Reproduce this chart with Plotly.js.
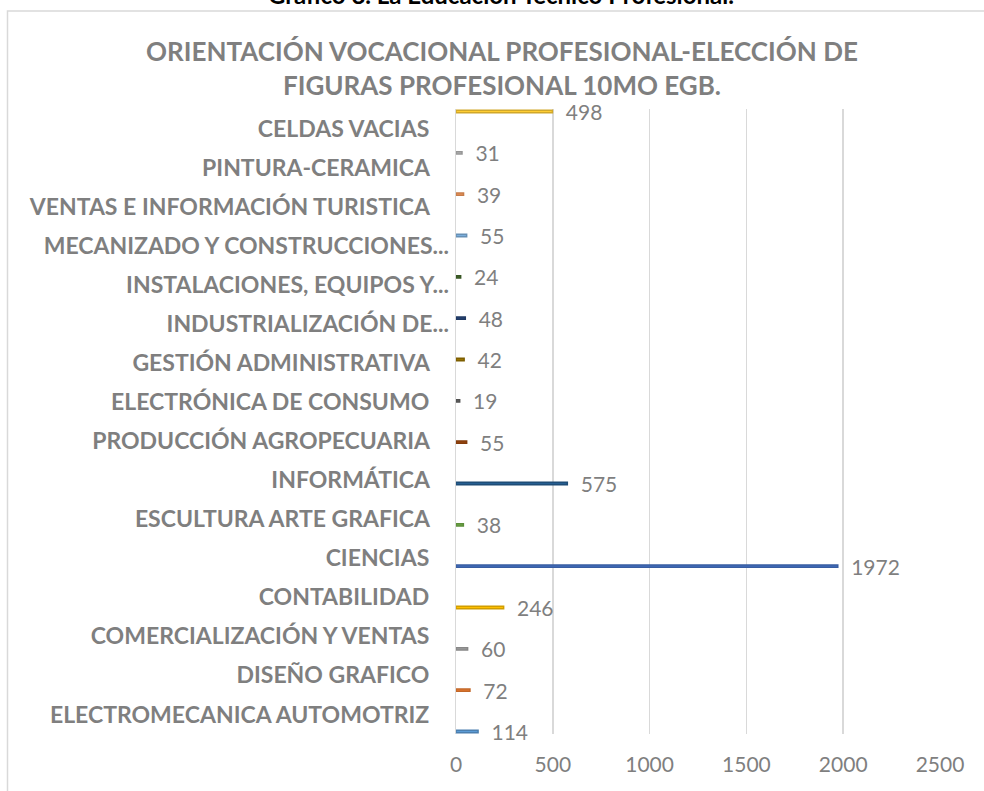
<!DOCTYPE html>
<html>
<head>
<meta charset="utf-8">
<script src="https://cdn.plot.ly/plotly-3.0.1.min.js"></script>
<style>
  html, body { margin: 0; padding: 0; background: #ffffff; }
  #chart { width: 984px; height: 791px; }
</style>
</head>
<body>
<div id="chart"></div>
<script>
// Categories, bottom to top (as in the reference)
const categories = [
  "ELECTROMECANICA AUTOMOTRIZ",
  "DISEÑO GRAFICO",
  "COMERCIALIZACIÓN Y VENTAS",
  "CONTABILIDAD",
  "CIENCIAS",
  "ESCULTURA ARTE GRAFICA",
  "INFORMÁTICA",
  "PRODUCCIÓN AGROPECUARIA",
  "ELECTRÓNICA DE CONSUMO",
  "GESTIÓN ADMINISTRATIVA",
  "INDUSTRIALIZACIÓN DE...",
  "INSTALACIONES, EQUIPOS Y...",
  "MECANIZADO Y CONSTRUCCIONES...",
  "VENTAS E INFORMACIÓN TURISTICA",
  "PINTURA-CERAMICA",
  "CELDAS VACIAS"
];
const values = [114, 72, 60, 246, 1972, 38, 575, 55, 19, 42, 48, 24, 55, 39, 31, 498];
const xTickValues = [0, 500, 1000, 1500, 2000, 2500];
const chartTitle = "ORIENTACIÓN VOCACIONAL PROFESIONAL-ELECCIÓN DE<br>FIGURAS PROFESIONAL 10MO EGB.";
const caption = "Gráfico 8. La Educación Técnico Profesional.";

// Excel-like palette, one colour per series
const fillColors = ["#5B9BD5","#ED7D31","#A5A5A5","#FFC000","#4472C4","#70AD47","#255E91","#9E480E",
                    "#636363","#997300","#264478","#43682B","#7CAFDD","#F1975A","#B7B7B7","#FFCD33"];

function darken(hex, f) {
  const n = parseInt(hex.slice(1), 16);
  const r = Math.round(((n >> 16) & 255) * f), g = Math.round(((n >> 8) & 255) * f), b = Math.round((n & 255) * f);
  return "rgb(" + r + "," + g + "," + b + ")";
}

const FONT = "Lato, 'Open Sans', sans-serif";
const GRAY = "#7f7f7f";
const NB = "\u00a0";

// Excel clustered layout: every series keeps its own slot inside each category band
const nSeries = categories.length;
const groupWidth = 0.93;
const slot = groupWidth / nSeries;

const traces = categories.map((c, k) => ({
  type: "bar",
  orientation: "h",
  y: [c],
  x: [values[k]],
  width: slot,
  offset: -groupWidth / 2 + k * slot,
  marker: { color: fillColors[k], line: { color: darken(fillColors[k], 0.82), width: 1.5 } },
  text: [NB + NB + "\u2009" + String(values[k])],
  textposition: "outside",
  constraintext: "none",
  cliponaxis: false,
  textfont: { family: FONT, size: 21, color: GRAY },
  hoverinfo: "none"
}));

// pad non-truncated labels so that only the ellipsis overhangs (as in Excel)
const pad = NB.repeat(3) + "\u2009";
const tickText = categories.map(c => c.endsWith("...") ? c : c + pad);

// plot area pixel geometry
const L = 456, R = 940, T = 109, B = 734, W = 984, H = 791;
const px = p => (p - L) / (R - L);
const py = p => (B - p) / (B - T);

const layout = {
  width: W, height: H,
  margin: { l: L, r: W - R, t: T, b: H - B, pad: 0 },
  paper_bgcolor: "#ffffff",
  plot_bgcolor: "#ffffff",
  showlegend: false,
  hovermode: false,
  barmode: "overlay",
  title: {
    text: chartTitle,
    font: { family: FONT, size: 26, color: GRAY, weight: "bold" },
    x: 502 / W, xref: "container", xanchor: "center",
    y: 1 - 61 / H, yref: "container", yanchor: "middle"
  },
  xaxis: {
    range: [0, 2500],
    tickvals: xTickValues,
    ticktext: xTickValues.map(String),
    showgrid: true, gridcolor: "#d9d9d9", gridwidth: 1.5,
    zeroline: false, showline: false,
    ticks: "outside", ticklen: 12, tickcolor: "rgba(0,0,0,0)",
    tickfont: { family: FONT, size: 21, color: GRAY },
    fixedrange: true
  },
  yaxis: {
    type: "category",
    categoryorder: "array",
    categoryarray: categories,
    tickvals: categories,
    ticktext: tickText,
    range: [-0.5, categories.length - 0.5],
    showgrid: false, zeroline: false,
    showline: true, linecolor: "#d9d9d9", linewidth: 1.5,
    ticks: "outside", ticklen: 1, tickcolor: "rgba(0,0,0,0)",
    tickfont: { family: FONT, size: 23, color: GRAY, weight: "bold" },
    automargin: false,
    fixedrange: true
  },
  shapes: [{
    type: "rect", xref: "paper", yref: "paper", layer: "below",
    x0: px(7.5), x1: px(1010), y0: py(820), y1: py(11),
    line: { color: "#d9d9d9", width: 1.5 }, fillcolor: "rgba(0,0,0,0)"
  }],
  annotations: [{
    text: caption, showarrow: false,
    xref: "paper", yref: "paper", x: px(501), y: py(-6),
    xanchor: "center", yanchor: "middle",
    font: { family: FONT, size: 24, color: "#000000", weight: "bold" }
  }]
};

Plotly.newPlot("chart", traces, layout, { displayModeBar: false, staticPlot: true });
</script>
</body>
</html>
